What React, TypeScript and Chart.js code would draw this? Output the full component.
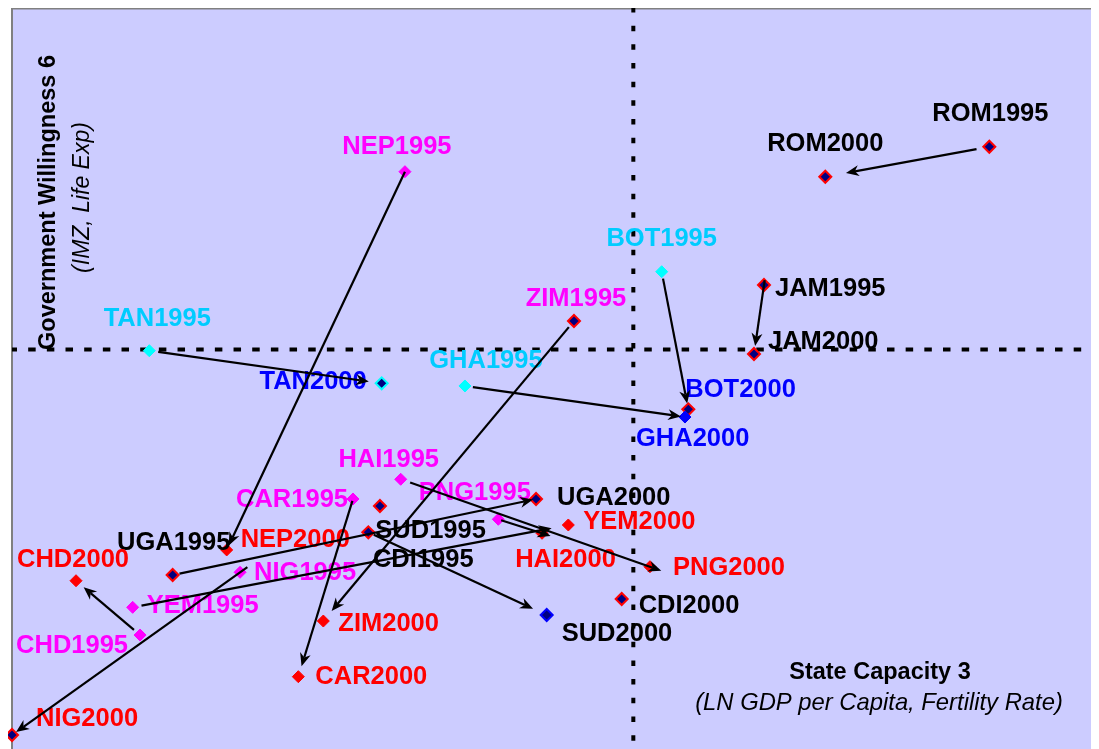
import React, { useEffect, useRef } from 'react';
import { Chart, registerables } from 'chart.js';

Chart.register(...registerables);

// ---- Data ----
const countries = ['ROM', 'JAM', 'BOT', 'GHA', 'TAN', 'NEP', 'UGA', 'CHD', 'YEM', 'NIG', 'CAR', 'ZIM', 'HAI', 'PNG', 'SUD', 'CDI'];
const capacity1995 = [89.91, 69.18, 59.77, 41.67, 12.63, 36.15, 14.78, 11.78, 11.1, 20.98, 31.37, 51.7, 35.76, 44.74, 32.78, 33.85];
const willingness1995 = [81.28, 62.62, 64.41, 48.99, 53.75, 77.91, 23.48, 15.38, 19.12, 23.85, 33.74, 57.76, 36.4, 31.0, 29.24, 32.79];
const capacity2000 = [74.82, 68.26, 62.22, 61.91, 34.01, 19.75, 48.21, 5.89, 51.18, 0.0, 26.34, 28.64, 48.76, 58.69, 49.19, 56.09];
const willingness2000 = [77.23, 53.31, 45.84, 44.8, 49.35, 26.86, 33.74, 22.71, 30.23, 1.89, 9.76, 17.27, 29.11, 24.6, 18.08, 20.24];
const capacityDivider = 57.16;
const willingnessDivider = 53.91;

const marker1995 = ['navyRed', 'navyRed', 'cyan', 'cyan', 'cyan', 'magenta', 'navyRed', 'magenta', 'magenta', 'magenta', 'magenta', 'navyRed', 'magenta', 'magenta', 'navyRed', 'navyRed'];
const marker2000 = ['navyRed', 'navyRed', 'navyRed', 'blue', 'navyCyan', 'red', 'navyRed', 'red', 'red', 'navyRed', 'red', 'red', 'red', 'red', 'navyBlue', 'navyRed'];
const labelColor1995 = ['black', 'black', 'sky', 'sky', 'sky', 'magenta', 'black', 'magenta', 'magenta', 'magenta', 'magenta', 'magenta', 'magenta', 'magenta', 'black', 'black'];
const labelColor2000 = ['black', 'black', 'blue', 'blue', 'blue', 'red', 'black', 'red', 'red', 'red', 'red', 'red', 'red', 'red', 'black', 'black'];

// arrows: [from label, to label, start gap, end gap]
const arrows: [string, string, number, number][] = [
  ['ROM1995', 'ROM2000', 13, 21],
  ['JAM1995', 'JAM2000', -5, 8],
  ['BOT1995', 'BOT2000', 7, 6],
  ['GHA1995', 'GHA2000', 8, 4],
  ['TAN1995', 'TAN2000', 9, 13],
  ['NEP1995', 'NEP2000', 0, 5],
  ['UGA1995', 'UGA2000', 7, 3],
  ['CHD1995', 'CHD2000', 8, 10],
  ['YEM1995', 'YEM2000', 9, 17],
  ['NIG1995', 'NIG2000', -9, 5],
  ['CAR1995', 'CAR2000', 2, 11],
  ['ZIM1995', 'ZIM2000', 8, 13],
  ['HAI1995', 'PNG2000', 10, -12],
  ['PNG1995', 'HAI2000', 3, -9],
  ['SUD1995', 'SUD2000', 6, 15],
];

// ---- Styles / layout ----
const markerStyles: Record<string, { fill: string; border: string; radius: number; width: number }> = {
  navyRed: { fill: '#000080', border: '#FF0000', radius: 6, width: 2 },
  magenta: { fill: '#FF00FF', border: '#FF00FF', radius: 6, width: 1 },
  red: { fill: '#FF0000', border: '#FF0000', radius: 6, width: 1 },
  cyan: { fill: '#00FFFF', border: '#00FFFF', radius: 6, width: 1 },
  navyCyan: { fill: '#000080', border: '#00FFFF', radius: 6, width: 2 },
  blue: { fill: '#0000FF', border: '#0000FF', radius: 6, width: 1 },
  navyBlue: { fill: '#000080', border: '#0000FF', radius: 6, width: 2 },
};
const textColors: Record<string, string> = {
  black: '#000000',
  magenta: '#FF00FF',
  red: '#FF0000',
  sky: '#00CCFF',
  blue: '#0000FF',
};
// label placement relative to its marker: [align, dx, dy]
const labelPlacement: Record<string, [CanvasTextAlign, number, number]> = {
  ROM1995: ['center', 1, -33], ROM2000: ['center', 0, -33],
  JAM1995: ['left', 11, 4], JAM2000: ['left', 14, -12],
  BOT1995: ['center', 0, -33], BOT2000: ['left', -3, -19],
  GHA1995: ['center', 21, -25], GHA2000: ['left', -49, 22],
  TAN1995: ['center', 8, -32], TAN2000: ['right', -15, -1],
  NEP1995: ['center', -8, -25], NEP2000: ['left', 14, -10],
  UGA1995: ['center', 1, -32.5], UGA2000: ['left', 21, -1],
  CHD1995: ['right', -12, 11], CHD2000: ['center', -3, -21],
  YEM1995: ['left', 14, -1], YEM2000: ['left', 15, -3],
  NIG1995: ['left', 14, 1], NIG2000: ['left', 24, -16],
  CAR1995: ['right', -5, 1], CAR2000: ['left', 17, 0],
  ZIM1995: ['center', 2, -22], ZIM2000: ['left', 15, 3],
  HAI1995: ['center', -12, -19], HAI2000: ['center', 23.5, 27],
  PNG1995: ['center', -23.5, -26], PNG2000: ['left', 23, 1],
  SUD1995: ['left', 7, -1.5], SUD2000: ['left', 15, 19],
  CDI1995: ['left', -7, 54], CDI2000: ['left', 17, 7],
};

const FONT = '"Liberation Sans", Arial, Helvetica, sans-serif';

const makeDataset = (year: string, xs: number[], ys: number[], kinds: string[]) => ({
  label: year,
  data: xs.map((x, i) => ({ x, y: ys[i] })),
  pointStyle: 'rectRot' as const,
  pointRadius: kinds.map((k) => markerStyles[k].radius),
  pointHoverRadius: kinds.map((k) => markerStyles[k].radius),
  pointBackgroundColor: kinds.map((k) => markerStyles[k].fill),
  pointBorderColor: kinds.map((k) => markerStyles[k].border),
  pointBorderWidth: kinds.map((k) => markerStyles[k].width),
  showLine: false,
  clip: false as const,
});

const quadrantPlugin = {
  id: 'quadrant',
  beforeDraw(chart: any) {
    const { ctx, chartArea: a } = chart;
    ctx.save();
    ctx.fillStyle = '#CCCCFF';
    ctx.fillRect(a.left, a.top, a.right - a.left, a.bottom - a.top);
    ctx.fillStyle = '#808080';
    ctx.fillRect(a.left - 1, a.top, 2, a.bottom - a.top);
    ctx.fillRect(a.left - 1, a.top, a.right - a.left + 1, 1.5);
    ctx.restore();
  },
  beforeDatasetsDraw(chart: any) {
    const { ctx, chartArea: a, scales } = chart;
    const vx = scales.x.getPixelForValue(capacityDivider);
    const hy = scales.y.getPixelForValue(willingnessDivider);
    ctx.save();
    ctx.strokeStyle = '#000000';
    ctx.lineWidth = 4;
    ctx.setLineDash([7.5, 11.17]);
    ctx.lineDashOffset = 2.5;
    ctx.beginPath();
    ctx.moveTo(a.left, hy);
    ctx.lineTo(a.right, hy);
    ctx.stroke();
    ctx.setLineDash([5.5, 13.17]);
    ctx.lineDashOffset = 1;
    ctx.beginPath();
    ctx.moveTo(vx, a.top);
    ctx.lineTo(vx, a.bottom);
    ctx.stroke();
    ctx.restore();
  },
};

const annotationPlugin = {
  id: 'annotations',
  afterDatasetsDraw(chart: any) {
    const { ctx } = chart;
    const pos: Record<string, { x: number; y: number }> = {};
    const years = [
      { year: '1995', colors: labelColor1995 },
      { year: '2000', colors: labelColor2000 },
    ];
    ctx.save();
    ctx.font = `bold 25.5px ${FONT}`;
    ctx.textBaseline = 'middle';
    years.forEach((yr, d) => {
      const meta = chart.getDatasetMeta(d);
      countries.forEach((c, i) => {
        const el = meta.data[i];
        const name = c + yr.year;
        pos[name] = { x: el.x, y: el.y };
        const [align, dx, dy] = labelPlacement[name];
        ctx.textAlign = align;
        ctx.fillStyle = textColors[yr.colors[i]];
        ctx.fillText(name, el.x + dx, el.y + dy);
      });
    });
    // arrows
    ctx.strokeStyle = '#000000';
    ctx.fillStyle = '#000000';
    ctx.lineWidth = 2.2;
    arrows.forEach(([from, to, s, e]) => {
      const p1 = pos[from];
      const p2 = pos[to];
      const dx = p2.x - p1.x;
      const dy = p2.y - p1.y;
      const len = Math.hypot(dx, dy);
      const ux = dx / len;
      const uy = dy / len;
      const sx = p1.x + ux * s;
      const sy = p1.y + uy * s;
      const ex = p2.x - ux * e;
      const ey = p2.y - uy * e;
      const head = 13;
      const hw = 5.5;
      ctx.beginPath();
      ctx.moveTo(sx, sy);
      ctx.lineTo(ex - ux * head * 0.7, ey - uy * head * 0.7);
      ctx.stroke();
      const bx = ex - ux * head;
      const by = ey - uy * head;
      ctx.beginPath();
      ctx.moveTo(ex, ey);
      ctx.lineTo(bx - uy * hw, by + ux * hw);
      ctx.lineTo(ex - ux * head * 0.7, ey - uy * head * 0.7);
      ctx.lineTo(bx + uy * hw, by - ux * hw);
      ctx.closePath();
      ctx.fill();
    });
    ctx.restore();
  },
  afterDraw(chart: any) {
    const { ctx, chartArea: a } = chart;
    ctx.save();
    ctx.fillStyle = '#000000';
    ctx.textAlign = 'center';
    ctx.textBaseline = 'middle';
    ctx.font = `bold 23.5px ${FONT}`;
    ctx.fillText('State Capacity 3', a.right - 219, a.bottom - 76.5);
    ctx.font = `italic 23.8px ${FONT}`;
    ctx.fillText('(LN GDP per Capita, Fertility Rate)', a.right - 220, a.bottom - 46);
    ctx.save();
    ctx.translate(a.left + 37, a.top + 194.5);
    ctx.rotate(-Math.PI / 2);
    ctx.font = `bold 23.5px ${FONT}`;
    ctx.fillText('Government Willingness 6', 0, 0);
    ctx.restore();
    ctx.save();
    ctx.translate(a.left + 71, a.top + 189.5);
    ctx.rotate(-Math.PI / 2);
    ctx.font = `italic 23px ${FONT}`;
    ctx.fillText('(IMZ, Life Exp)', 0, 0);
    ctx.restore();
    ctx.restore();
  },
};

export default function App() {
  const canvasRef = useRef<HTMLCanvasElement | null>(null);

  useEffect(() => {
    document.documentElement.style.overflow = 'hidden';
    document.body.style.overflow = 'hidden';
    const canvas = canvasRef.current;
    if (!canvas) return;
    const chart = new Chart(canvas, {
      type: 'scatter',
      data: {
        datasets: [
          makeDataset('1995', capacity1995, willingness1995, marker1995),
          makeDataset('2000', capacity2000, willingness2000, marker2000),
        ],
      },
      options: {
        animation: false,
        responsive: false,
        devicePixelRatio: 1,
        layout: { autoPadding: false, padding: { left: 4, top: 0, right: 0, bottom: 0 } },
        plugins: { legend: { display: false }, tooltip: { enabled: false } },
        events: [],
        scales: {
          x: { type: 'linear', display: false, min: 0, max: 100 },
          y: { type: 'linear', display: false, min: 0, max: 100 },
        },
      },
      plugins: [quadrantPlugin, annotationPlugin],
    } as any);
    return () => chart.destroy();
  }, []);

  return (
    <div style={{ width: 1091, height: 741 }}>
      <canvas ref={canvasRef} width={1091} height={741} style={{ display: 'block' }} />
    </div>
  );
}
